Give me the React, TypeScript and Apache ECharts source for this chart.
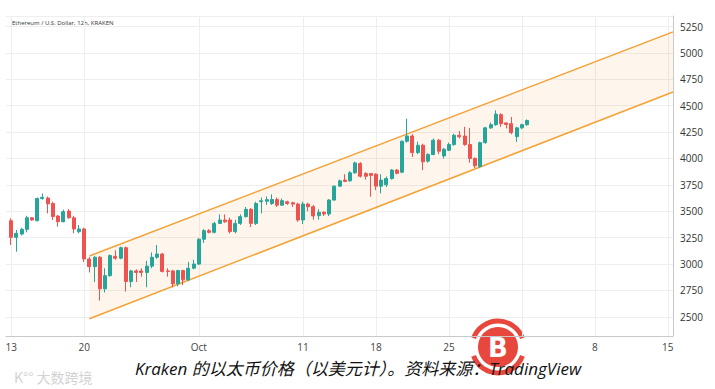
import React, { useEffect, useRef } from "react";
import * as echarts from "echarts";

// ---- data (12h candles, Kraken ETH/USD) ----
const startUtc = Date.UTC(2021, 8, 12, 12, 0); // first category
const categoryCount = 129;
const pad = (n: number) => (n < 10 ? "0" + n : "" + n);
const categories: string[] = [];
for (let i = 0; i < categoryCount; i++) {
  const d = new Date(startUtc + i * 12 * 3600 * 1000);
  categories.push(
    `${d.getUTCFullYear()}-${pad(d.getUTCMonth() + 1)}-${pad(d.getUTCDate())} ${pad(d.getUTCHours())}:00`
  );
}

// candles from 2021-09-13 00:00 onwards
const opens = [
  3410, 3253, 3284, 3329, 3438, 3410, 3621, 3625, 3574, 3455,
  3401, 3502, 3438, 3306, 3332, 3048, 2975, 3064, 2765, 2890,
  3073, 3055, 3155, 2834, 2935, 2935, 2920, 2980, 3064, 3095,
  2935, 2935, 2812, 2938, 2850, 2960, 3000, 3235, 3316, 3300,
  3385, 3417, 3417, 3307, 3385, 3449, 3518, 3385, 3590, 3595,
  3574, 3611, 3558, 3590, 3580, 3568, 3417, 3568, 3543, 3458,
  3490, 3474, 3606, 3738, 3795, 3788, 3864, 3952, 3857, 3857,
  3851, 3738, 3750, 3810, 3890, 3870, 4163, 4213, 4056, 4125,
  3975, 4038, 4173, 4024, 4078, 4132, 4220, 4213, 4132, 4000,
  3925, 4150, 4290, 4320, 4415, 4337, 4330, 4207, 4290, 4320,
];
const closes = [
  3253, 3291, 3329, 3438, 3417, 3621, 3632, 3570, 3449, 3401,
  3496, 3438, 3332, 3332, 3048, 2975, 3064, 2765, 2890, 3080,
  3055, 3155, 2834, 2935, 2920, 2920, 2980, 3064, 3095, 2930,
  2930, 2812, 2938, 2850, 2960, 3000, 3235, 3316, 3300, 3385,
  3417, 3400, 3307, 3385, 3449, 3518, 3385, 3574, 3600, 3610,
  3611, 3558, 3600, 3574, 3568, 3417, 3568, 3543, 3455, 3490,
  3474, 3606, 3738, 3788, 3783, 3864, 3958, 3832, 3832, 3840,
  3738, 3795, 3810, 3890, 3860, 4163, 4213, 4056, 4125, 3968,
  4038, 4173, 4069, 4088, 4132, 4220, 4205, 4132, 4000, 3930,
  4150, 4290, 4320, 4420, 4330, 4322, 4245, 4290, 4320, 4360,
];
const lows = [
  3180, 3117, 3270, 3300, 3410, 3405, 3610, 3480, 3417, 3354,
  3395, 3430, 3291, 3291, 3020, 2920, 2830, 2654, 2730, 2880,
  3040, 3045, 2740, 2780, 2830, 2880, 2780, 2960, 3050, 2920,
  2880, 2780, 2790, 2800, 2840, 2950, 2990, 3200, 3290, 3290,
  3380, 3390, 3290, 3290, 3370, 3440, 3350, 3370, 3480, 3560,
  3560, 3540, 3550, 3560, 3540, 3400, 3379, 3500, 3420, 3420,
  3455, 3455, 3600, 3730, 3775, 3780, 3855, 3820, 3800, 3637,
  3700, 3669, 3730, 3800, 3850, 3860, 4150, 4014, 4040, 3890,
  3960, 4030, 4040, 4000, 4070, 4120, 4190, 4120, 3960, 3910,
  3911, 4140, 4280, 4310, 4300, 4285, 4230, 4157, 4280, 4310,
];
const highs = [
  3433, 3322, 3344, 3457, 3445, 3630, 3669, 3640, 3590, 3464,
  3515, 3521, 3457, 3370, 3344, 3065, 3075, 3075, 2960, 3090,
  3130, 3165, 3165, 2945, 2950, 2960, 3030, 3110, 3180, 3105,
  2960, 2945, 2945, 2945, 3020, 3040, 3245, 3330, 3330, 3400,
  3470, 3470, 3440, 3420, 3470, 3540, 3530, 3590, 3630, 3640,
  3660, 3630, 3620, 3600, 3590, 3580, 3590, 3580, 3560, 3520,
  3500, 3615, 3745, 3800, 3851, 3880, 3970, 3965, 3870, 3860,
  3860, 3850, 3830, 3900, 3900, 4170, 4377, 4230, 4160, 4140,
  4050, 4190, 4185, 4100, 4150, 4235, 4260, 4300, 4290, 4010,
  4160, 4300, 4340, 4456, 4430, 4340, 4393, 4300, 4330, 4370,
];

// rising channel (start / end points)
const channelX = [16, 128];
const channelLower = [2481, 4630];
const channelUpper = [3076, 5200];

// axis ticks
const yTicks = [2500, 2750, 3000, 3250, 3500, 3750, 4000, 4250, 4500, 4750, 5000, 5250];
const yMin = 2318;
const yMax = 5350;
const xTickDates = [
  "2021-09-13 00:00", "2021-09-20 00:00", "2021-10-01 00:00", "2021-10-11 00:00",
  "2021-10-18 00:00", "2021-10-25 00:00", "2021-11-01 00:00", "2021-11-08 00:00",
  "2021-11-15 00:00",
];
const xTickTexts = ["13", "20", "Oct", "11", "18", "25", "", "8", "15"];

const UP = "#26a69a";
const DOWN = "#ef5350";
const ORANGE = "#f5a136";

export default function App() {
  const ref = useRef<HTMLDivElement>(null);
  useEffect(() => {
    document.body.style.margin = "0";
    if (!ref.current) return;
    const chart = echarts.init(ref.current, null, { renderer: "svg" });

    const tickMap: Record<string, string> = {};
    xTickDates.forEach((d, i) => (tickMap[d] = xTickTexts[i]));
    const isTick = (i: number) => categories[i] in tickMap;

    const candleData: any[] = ["-"];
    for (let i = 0; i < opens.length; i++) {
      candleData.push([opens[i], closes[i], lows[i], highs[i]]);
    }

    const lowerData = channelX.map((x, i) => [x, channelLower[i]]);
    const bandData = channelX.map((x, i) => [x, channelUpper[i] - channelLower[i]]);

    chart.setOption({
      animation: false,
      backgroundColor: "#ffffff",
      grid: { left: 6, right: 42, top: 16, bottom: 53, outerBoundsMode: "none" },
      xAxis: {
        type: "category",
        data: categories,
        boundaryGap: false,
        axisLine: { show: true, lineStyle: { color: "#c9c9c9" } },
        axisTick: { show: false },
        axisLabel: {
          interval: (i: number) => isTick(i),
          formatter: (v: string) => tickMap[v] ?? "",
          color: "#444",
          fontSize: 10,
          margin: 6,
          fontFamily: "Open Sans",
        },
        splitLine: {
          show: true,
          interval: (i: number) => isTick(i),
          lineStyle: { color: "#eeeeee", width: 1 },
        },
      },
      yAxis: {
        type: "value",
        position: "right",
        min: yMin,
        max: yMax,
        scale: true,
        axisLine: { show: true, lineStyle: { color: "#c9c9c9" } },
        axisTick: { show: false, customValues: [...yTicks, yMax] },
        axisLabel: {
          customValues: yTicks,
          formatter: (v: number) => String(Math.round(v)),
          color: "#333",
          fontSize: 10,
          margin: 7,
          fontFamily: "Open Sans",
        },
        splitLine: { show: true, lineStyle: { color: "#eeeeee", width: 1 } },
      },
      series: [
        {
          type: "line",
          stack: "channel",
          data: lowerData,
          symbol: "none",
          lineStyle: { color: ORANGE, width: 1.5 },
          z: 1,
        },
        {
          type: "line",
          stack: "channel",
          data: bandData,
          symbol: "none",
          lineStyle: { color: ORANGE, width: 1.5 },
          areaStyle: { color: "rgba(245,150,40,0.13)" },
          z: 1,
        },
        {
          type: "candlestick",
          data: candleData,
          barWidth: 3.5,
          z: 3,
          itemStyle: {
            color: UP,
            color0: DOWN,
            borderColor: UP,
            borderColor0: DOWN,
            borderWidth: 1,
          },
        },
      ],
      graphic: [
        {
          type: "text",
          left: 12,
          top: 20,
          style: {
            text: "Ethereum / U.S. Dollar, 12h, KRAKEN",
            fontSize: 6,
            fontFamily: "Open Sans",
            fill: "#333",
          },
        },
        {
          type: "text",
          x: 358,
          y: 368,
          style: {
            text: "Kraken 的以太币价格（以美元计）。资料来源：TradingView",
            fontSize: 17,
            fontStyle: "italic",
            fontFamily: "'Open Sans', 'Noto Sans CJK SC'",
            fill: "#111",
            align: "center",
            verticalAlign: "middle",
          },
          z: 10,
        },
        {
          type: "text",
          x: 14,
          y: 377,
          style: {
            text: "K°° 大数跨境",
            fontSize: 14,
            fontFamily: "'Noto Sans CJK SC'",
            fill: "rgba(190,190,190,0.7)",
            verticalAlign: "middle",
          },
          z: 10,
        },
        {
          type: "group",
          x: 498,
          y: 347,
          z: 20,
          children: [
            {
              type: "arc",
              shape: { cx: 0, cy: 0, r: 26, startAngle: (200 * Math.PI) / 180, endAngle: (340 * Math.PI) / 180 },
              style: { stroke: "#e8473d", lineWidth: 5, fill: "none" },
            },
            {
              type: "arc",
              shape: { cx: 0, cy: 0, r: 26, startAngle: (20 * Math.PI) / 180, endAngle: (160 * Math.PI) / 180 },
              style: { stroke: "#e8473d", lineWidth: 5, fill: "none" },
            },
            {
              type: "circle",
              shape: { cx: 0, cy: 0, r: 20 },
              style: { fill: "#e8473d" },
            },
            {
              type: "text",
              x: 0,
              y: 1,
              style: {
                text: "B",
                fontSize: 26,
                fontWeight: "bold",
                fontFamily: "DejaVu Sans",
                fill: "#ffffff",
                align: "center",
                verticalAlign: "middle",
              },
            },
          ],
        },
      ],
    });
    return () => chart.dispose();
  }, []);
  return <div ref={ref} style={{ width: 715, height: 389 }} />;
}
